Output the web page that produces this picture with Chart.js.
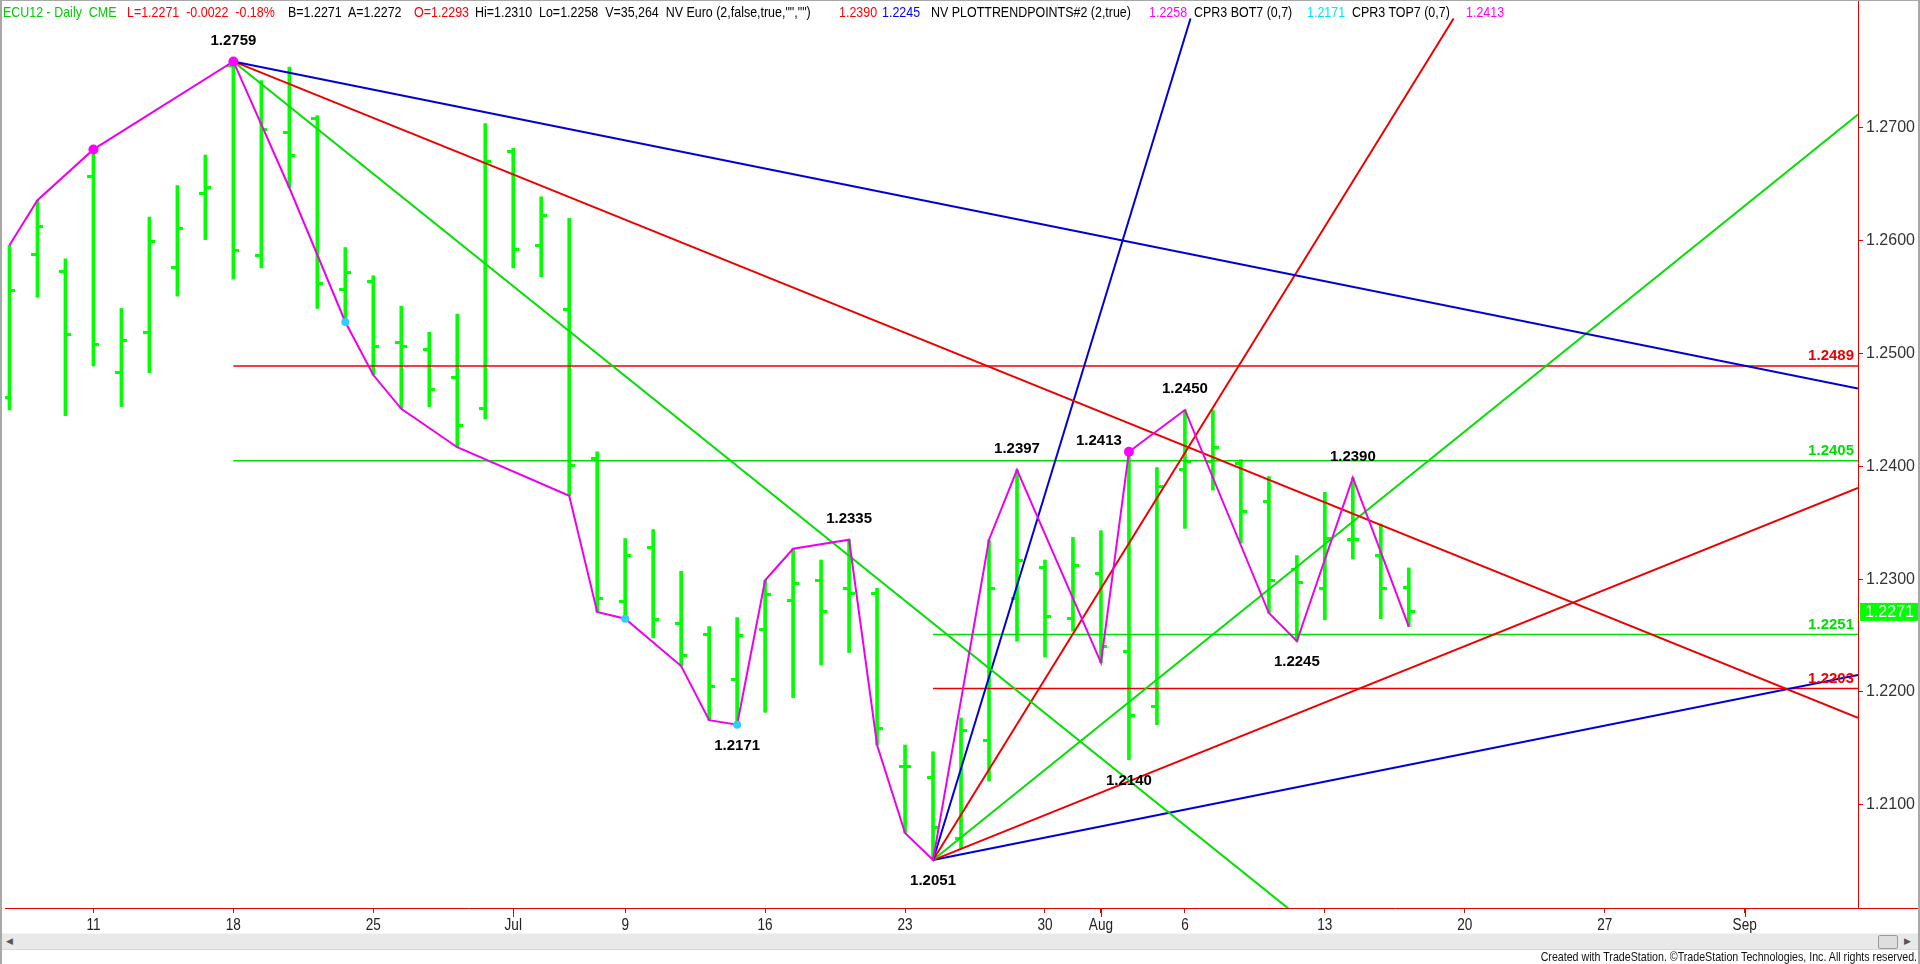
<!DOCTYPE html>
<html>
<head>
<meta charset="utf-8">
<title>ECU12 - Daily CME</title>
<script src="https://cdn.jsdelivr.net/npm/chart.js@4.4.1/dist/chart.umd.min.js"></script>
<style>
html,body{margin:0;padding:0;background:#fff;}
#wrap{position:relative;width:1920px;height:964px;overflow:hidden;background:#fff;font-family:"Liberation Sans",Arial,sans-serif;}
#chart{position:absolute;left:0;top:0;}
#header{position:absolute;left:0;top:3px;height:18px;font-size:15px;}
#header span{position:absolute;top:0;white-space:pre;transform:scaleX(0.83);transform-origin:0 0;}
#scroll{position:absolute;left:2px;right:2px;top:933px;height:15px;background:#e9e9e9;border-top:1px solid #f4f4f4;border-bottom:1px solid #d8d8d8;}
#thumb{position:absolute;left:1876px;top:1px;width:18px;height:12px;background:#dedede;border:1px solid #9a9a9a;border-radius:2px;}
#larrow,#rarrow{position:absolute;top:0;font-size:9px;color:#555;font-family:"DejaVu Sans",sans-serif;line-height:15px;}
#larrow{left:4px;} #rarrow{left:1902px;}
#credit{position:absolute;right:3px;top:949px;font-size:13px;color:#111;white-space:pre;transform:scaleX(0.82);transform-origin:100% 0;}
.frame{position:absolute;background:#a8a8a8;}
</style>
</head>
<body>
<div id="wrap">
  <canvas id="chart" width="1920" height="964"></canvas>
  <div id="header"></div>
  <div id="scroll"><span id="larrow">&#9664;</span><div id="thumb"></div><span id="rarrow">&#9654;</span></div>
  <div id="credit">Created with TradeStation. &copy;TradeStation Technologies, Inc. All rights reserved.</div>
  <div class="frame" style="left:0;top:0;width:2px;height:964px"></div>
  <div class="frame" style="left:0;top:0;width:1920px;height:1px"></div>
  <div class="frame" style="right:0;top:0;width:2px;height:964px"></div>
</div>
<script>
// daily bars, ECU12 (Euro FX Sep 2012)
const days = ['Jun 6','Jun 7','Jun 8','Jun 11','Jun 12','Jun 13','Jun 14','Jun 15','Jun 18','Jun 19',
    'Jun 20','Jun 21','Jun 22','Jun 25','Jun 26','Jun 27','Jun 28','Jun 29','Jul 2','Jul 3',
    'Jul 5','Jul 6','Jul 9','Jul 10','Jul 11','Jul 12','Jul 13','Jul 16','Jul 17','Jul 18',
    'Jul 19','Jul 20','Jul 23','Jul 24','Jul 25','Jul 26','Jul 27','Jul 30','Jul 31','Aug 1',
    'Aug 2','Aug 3','Aug 6','Aug 7','Aug 8','Aug 9','Aug 10','Aug 13','Aug 14','Aug 15','Aug 16'];
const opens  = [1.2461,1.2588,1.2573,1.2657,1.2483,1.2519,1.2576,1.2642,1.2755,1.2587,
    1.2696,1.2708,1.2557,1.2564,1.2510,1.2504,1.2479,1.2451,1.2679,1.2596,
    1.2539,1.2407,1.2280,1.2328,1.2261,1.2251,1.2211,1.2255,1.2281,1.2299,
    1.2292,1.2287,1.2134,1.2124,1.2070,1.2157,1.2283,1.2310,1.2265,1.2305,
    1.2236,1.2187,1.2397,1.2404,1.2403,1.2369,1.2309,1.2292,1.2335,1.2321,1.2293];
const highs  = [1.2596,1.2636,1.2584,1.2681,1.2540,1.2621,1.2649,1.2676,1.2759,1.2742,
    1.2754,1.2711,1.2594,1.2569,1.2542,1.2519,1.2535,1.2704,1.2682,1.2639,
    1.2620,1.2413,1.2336,1.2344,1.2307,1.2258,1.2266,1.2299,1.2327,1.2317,
    1.2335,1.2292,1.2153,1.2147,1.2177,1.2335,1.2397,1.2317,1.2337,1.2343,
    1.2413,1.2399,1.2450,1.2450,1.2406,1.2391,1.2321,1.2377,1.2390,1.2349,1.2310];
const lows   = [1.2450,1.2550,1.2445,1.2489,1.2453,1.2483,1.2551,1.2601,1.2566,1.2576,
    1.2647,1.2540,1.2528,1.2481,1.2451,1.2453,1.2417,1.2442,1.2576,1.2568,
    1.2374,1.2271,1.2265,1.2248,1.2223,1.2175,1.2171,1.2182,1.2195,1.2224,
    1.2235,1.2153,1.2075,1.2051,1.2061,1.2121,1.2245,1.2231,1.2254,1.2226,
    1.2140,1.2171,1.2345,1.2379,1.2332,1.2270,1.2245,1.2264,1.2318,1.2265,1.2258];
const closes = [1.2556,1.2613,1.2517,1.2508,1.2512,1.2599,1.2611,1.2647,1.2591,1.2699,
    1.2676,1.2562,1.2572,1.2506,1.2506,1.2468,1.2436,1.2670,1.2592,1.2622,
    1.2401,1.2283,1.2321,1.2264,1.2232,1.2205,1.2250,1.2286,1.2296,1.2271,
    1.2287,1.2168,1.2134,1.2080,1.2166,1.2292,1.2317,1.2267,1.2312,1.2240,
    1.2179,1.2382,1.2404,1.2417,1.2360,1.2299,1.2297,1.2336,1.2335,1.2292,1.2271];

// bottom axis: bar index -> label
const xTickIdx    = [3, 8, 13, 18, 22, 27, 32, 37, 39, 42, 47, 52, 57, 62];
const xTickLabels = ['11','18','25','Jul','9','16','23','30','Aug','6','13','20','27','Sep'];
const yTicks = [1.21, 1.22, 1.23, 1.24, 1.25, 1.26, 1.27];

// PLOTTRENDPOINTS swing line
const zzIdx = [0,1,3,8,10,12,13,14,16,20,21,22,24,25,26,27,28,30,31,32,33,35,36,39,40,42,45,46,48,50];
const zzVal = [1.2596,1.2636,1.2681,1.2759,1.2647,1.2528,1.2481,1.2451,1.2417,1.2374,
    1.2271,1.2265,1.2223,1.2175,1.2171,1.2299,1.2327,1.2335,1.2153,1.2075,
    1.2051,1.2335,1.2397,1.2226,1.2413,1.2450,1.2270,1.2245,1.2390,1.2258];
const topDotIdx = [3, 8, 40];
const topDotVal = [1.2681, 1.2759, 1.2413];
const botDotIdx = [12, 22, 26];
const botDotVal = [1.2528, 1.2265, 1.2171];

// swing labels
const pivotIdx  = [8, 26, 30, 33, 36, 40, 40, 42, 46, 48];
const pivotVal  = [1.2759, 1.2171, 1.2335, 1.2051, 1.2397, 1.2413, 1.2140, 1.2450, 1.2245, 1.2390];
const pivotSide = ['up','down','up','down','up','up','down','up','down','up'];

// horizontal levels
const levelVals  = [1.2489, 1.2405, 1.2251, 1.2203];
const levelStart = [8, 8, 33, 33];

// angle lines from the 1.2759 top and the 1.2051 bottom
const highFanEndIdx = [66.05, 66.05, 46];
const highFanEndVal = [1.2469, 1.2177, 1.2002];
const lowFanEndIdx  = [42.2, 51.6, 66.05, 66.05, 66.05];
const lowFanEndVal  = [1.2797, 1.2797, 1.2712, 1.2381, 1.2215];

const xMin = -0.16, xMax = 66.05;
const yMin = 1.20085, yMax = 1.27975;

const GREEN = '#00ff00', LGREEN = '#00e000', RED = '#ee0000', BLUE = '#0000d0', MAG = '#ee00ee', CYAN = '#33ccff';
const levelColors = [RED, LGREEN, LGREEN, RED];
const highFanColors = [BLUE, RED, LGREEN];
const lowFanColors = [BLUE, RED, LGREEN, RED, BLUE];

const header = [
    ['ECU12 - Daily  CME', '#00cc00', 3],
    ['L=1.2271  -0.0022  -0.18%', '#ff0000', 127],
    ['B=1.2271  A=1.2272', '#000', 288],
    ['O=1.2293', '#ff0000', 414],
    ['Hi=1.2310  Lo=1.2258  V=35,264  NV Euro (2,false,true,"","")', '#000', 475],
    ['1.2390', '#ff0000', 839],
    ['1.2245', '#0000ff', 882],
    ['NV PLOTTRENDPOINTS#2 (2,true)', '#000', 931],
    ['1.2258', '#ff00ff', 1149],
    ['CPR3 BOT7 (0,7)', '#000', 1194],
    ['1.2171', '#00e5ff', 1307],
    ['CPR3 TOP7 (0,7)', '#000', 1352],
    ['1.2413', '#ff00ff', 1466]
];

function tickImage(side){
    const c = document.createElement('canvas');
    c.width = 12; c.height = 3;
    const g = c.getContext('2d');
    g.fillStyle = GREEN;
    if(side === 'left') g.fillRect(0, 0, 6, 3);
    else g.fillRect(6, 0, 6, 3);
    return c;
}

function segment(x0, y0, x1, y1, color, width, order){
    return {
        type: 'line',
        data: [{x: x0, y: y0}, {x: x1, y: y1}],
        borderColor: color,
        borderWidth: width,
        pointRadius: 0,
        order: order
    };
}

const overlay = {
    id: 'overlay',
    afterDraw(chart){
        const {ctx, chartArea: a} = chart;
        const x = chart.scales.x, y = chart.scales.y;
        ctx.save();
        ctx.strokeStyle = '#e00000';
        ctx.lineWidth = 1;
        ctx.beginPath();
        ctx.moveTo(a.right + 0.5, 1); ctx.lineTo(a.right + 0.5, a.top);
        ctx.moveTo(a.right, a.bottom + 0.5); ctx.lineTo(chart.width, a.bottom + 0.5);
        // longer marks at month starts
        [18, 39, 62].forEach(i => {
            const px = Math.round(x.getPixelForValue(i)) + 0.5;
            ctx.moveTo(px, a.bottom); ctx.lineTo(px, a.bottom + 9);
        });
        ctx.stroke();

        // bottom labels in a condensed face
        ctx.fillStyle = '#222';
        ctx.font = '17px "Liberation Sans", Arial, sans-serif';
        ctx.textAlign = 'center';
        ctx.textBaseline = 'middle';
        xTickIdx.forEach((i, k) => {
            ctx.save();
            ctx.translate(x.getPixelForValue(i), a.bottom + 17);
            ctx.scale(0.8, 1);
            ctx.fillText(xTickLabels[k], 0, 0);
            ctx.restore();
        });

        ctx.font = 'bold 15px "Liberation Sans", Arial, sans-serif';
        ctx.textAlign = 'right';
        levelVals.forEach((v, k) => {
            ctx.fillStyle = levelColors[k];
            ctx.fillText(v.toFixed(4), a.right - 4, y.getPixelForValue(v) - 10);
        });

        ctx.textAlign = 'center';
        ctx.fillStyle = '#000';
        pivotIdx.forEach((i, k) => {
            let px = x.getPixelForValue(i);
            let py = y.getPixelForValue(pivotVal[k]) + (pivotSide[k] === 'up' ? -21 : 21);
            if(pivotSide[k] === 'up' && i === 40){ px -= 30; py += 10; }
            ctx.fillText(pivotVal[k].toFixed(4), px, py);
        });

        const last = closes[closes.length - 1];
        const ly = y.getPixelForValue(last);
        ctx.fillStyle = GREEN;
        ctx.fillRect(a.right + 2, ly - 9, 58, 18);
        ctx.fillStyle = '#fff';
        ctx.textAlign = 'left';
        ctx.font = '16px "Liberation Sans", Arial, sans-serif';
        ctx.fillText(last.toFixed(4), a.right + 7, ly + 1);
        ctx.restore();
    }
};

window.addEventListener('DOMContentLoaded', () => {
    const hdr = document.getElementById('header');
    header.forEach(h => {
        const s = document.createElement('span');
        s.textContent = h[0];
        s.style.color = h[1];
        s.style.left = h[2] + 'px';
        hdr.appendChild(s);
    });

    const datasets = [];
    datasets.push({
        type: 'bar',
        data: days.map((d, i) => ({x: i, y: [lows[i], highs[i]]})),
        backgroundColor: GREEN,
        borderWidth: 0,
        barThickness: 3,
        order: 20
    });
    datasets.push({
        type: 'line', showLine: false,
        data: days.map((d, i) => ({x: i, y: opens[i]})),
        pointStyle: tickImage('left'), pointRadius: 3,
        order: 19
    });
    datasets.push({
        type: 'line', showLine: false,
        data: days.map((d, i) => ({x: i, y: closes[i]})),
        pointStyle: tickImage('right'), pointRadius: 3,
        order: 19
    });
    levelVals.forEach((v, k) => {
        datasets.push(segment(levelStart[k], v, xMax, v, levelColors[k], 1.5, 8));
    });
    highFanEndIdx.forEach((e, k) => {
        datasets.push(segment(8, 1.2759, e, highFanEndVal[k], highFanColors[k], 2, 6));
    });
    lowFanEndIdx.forEach((e, k) => {
        datasets.push(segment(33, 1.2051, e, lowFanEndVal[k], lowFanColors[k], 2, 6));
    });
    datasets.push({
        type: 'line',
        data: zzIdx.map((i, k) => ({x: i, y: zzVal[k]})),
        borderColor: MAG, borderWidth: 2, pointRadius: 0, order: 3
    });
    datasets.push({
        type: 'line', showLine: false,
        data: topDotIdx.map((i, k) => ({x: i, y: topDotVal[k]})),
        pointRadius: 5, pointBackgroundColor: '#ff00ff', pointBorderWidth: 0, order: 1
    });
    datasets.push({
        type: 'line', showLine: false,
        data: botDotIdx.map((i, k) => ({x: i, y: botDotVal[k]})),
        pointRadius: 4, pointBackgroundColor: CYAN, pointBorderWidth: 0, order: 1
    });

    new Chart(document.getElementById('chart'), {
        type: 'line',
        data: {datasets: datasets},
        options: {
            responsive: false,
            animation: false,
            events: [],
            layout: {padding: {left: 2, top: 18, right: 0, bottom: 0}},
            elements: {line: {tension: 0}},
            plugins: {legend: {display: false}, tooltip: {enabled: false}},
            scales: {
                x: {
                    type: 'linear', min: xMin, max: xMax, offset: false,
                    afterBuildTicks: s => { s.ticks = xTickIdx.map(v => ({value: v})); },
                    afterFit: s => { s.height = 56; },
                    grid: {drawOnChartArea: false, offset: false, tickLength: 5, tickColor: '#e00000'},
                    border: {color: '#e00000', width: 1},
                    ticks: {display: false, autoSkip: false}
                },
                y: {
                    type: 'linear', position: 'right', min: yMin, max: yMax,
                    afterBuildTicks: s => { s.ticks = yTicks.map(v => ({value: v})); },
                    afterFit: s => { s.width = 62; },
                    grid: {drawOnChartArea: false, offset: false, tickLength: 5, tickColor: '#e00000'},
                    border: {color: '#e00000', width: 1},
                    ticks: {
                        padding: 3, color: '#333',
                        font: {family: '"Liberation Sans",Arial,sans-serif', size: 16},
                        callback: v => v.toFixed(4)
                    }
                }
            }
        },
        plugins: [overlay]
    });
});
</script>
</body>
</html>
